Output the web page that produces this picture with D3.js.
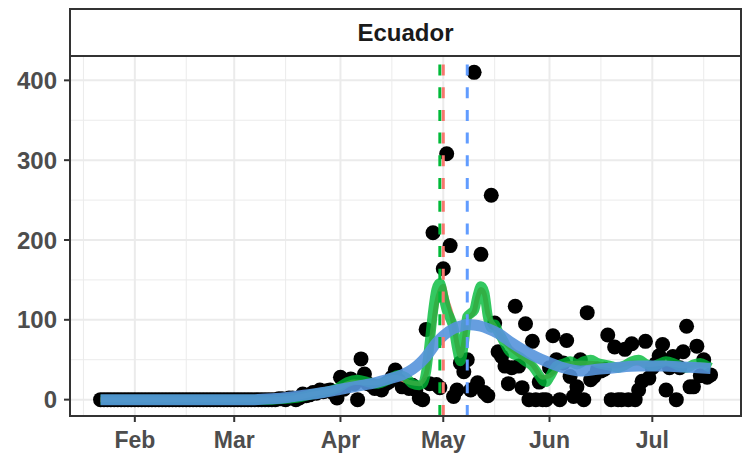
<!DOCTYPE html>
<html>
<head>
<meta charset="utf-8">
<script src="https://cdn.jsdelivr.net/npm/d3@7"></script>
<style>
  body { margin: 0; background: #fff; }
  text { font-family: "Liberation Sans", Arial, sans-serif; font-weight: bold; }
</style>
</head>
<body>
<svg id="chart" width="742" height="453"></svg>
<script>
// ---- data ----
const country = "Ecuador";
const startDate = "2020-01-22";
// daily deaths, one value per day from startDate
const daily = [
  0,0,0,0,0,0,0,0,0,0, 0,0,0,0,0,0,0,0,0,0,
  0,0,0,0,0,0,0,0,0,0, 0,0,0,0,0,0,0,0,0,0,
  0,0,0,0,0,0,0,0,0,0,
  0,0,1,1,0,2,2,0,2,7, 5,6,9,8,12,10,11,12,8,2,
  28,13,22,26,20,0,51,32,20,18, 14,16,12,19,22,28,37,24,16,18,
  14,18,12,2,0,88,20,209,19,15, 164,308,193,4,12,46,35,50,12,410,
  21,182,9,5,256,96,60,54,42,20, 40,117,42,15,95,0,73,0,22,0,
  0,40,80,50,0,46,74,29,4,16, 50,0,109,25,29,38,36,38,81,0,
  66,0,0,63,0,70,0,12,23,73, 27,40,45,55,69,12,40,54,0,40,
  60,92,16,16,67,30,50,28,31
];
// smoothed curves: [day offset, value]
const greenFit = [[0,0],[50,0],[54,1],[58,3],[62,7],[66,10],[69,14],[72,22],[75,25],[78,22],[81,20],[84,25],
  [87,31],[89,28],[91,20],[93,18],[94,20],[95,35],[96,70],[97,110],[98,138],[99,146],[100,130],[101,112],
  [102,102],[103,90],[104,65],[105,48],[106,70],[107,104],[108,108],[109,112],[110,130],[111,142],[112,134],
  [113,104],[114,90],[115,94],[116,85],[117,78],[118,70],[119,62],[120,58],[122,54],[124,48],[126,42],[128,30],
  [129,24],[130,22],[131,28],[133,42],[135,45],[137,48],[139,44],[141,48],[143,50],[145,46],[147,44],[149,42],
  [151,40],[153,43],[155,48],[157,50],[159,45],[161,42],[163,45],[165,48],[167,46],[169,42],[171,40],[173,44],
  [175,46],[177,42],[178,40]];
const redFit = [[0,0],[50,0],[56,2],[62,7],[68,12],[74,22],[80,21],[86,28],[90,22],[93,20],[95,32],[97,90],
  [98,120],[99,136],[100,142],[101,125],[102,112],[103,95],[104,70],[105,55],[106,72],[107,100],[109,110],
  [110,128],[111,138],[112,132],[113,108],[115,92],[118,72],[122,56],[126,44],[129,28],[131,30],[135,44],
  [140,46],[145,45],[150,42],[155,46],[160,44],[165,46],[170,42],[175,44],[178,42]];
const blueFit = [[0,0],[45,0],[50,1],[55,3],[60,6],[65,9],[70,13],[75,17],[80,21],[85,27],[88,31],[91,38],
  [93,45],[95,54],[98,71],[100,80],[103,89],[105,92],[107,94],[109,93.5],[111,92],[113,89],[116,83],[120,71],
  [125,58],[130,48],[135,40],[140,36],[145,38],[150,40],[157,42],[164,42],[170,41],[178,39]];
// peak dates of each curve
const peaks = [
  { day: 99, color: "#00BA38" },
  { day: 100, color: "#F8766D" },
  { day: 107, color: "#619CFF" }
];
const yTicks = [0, 100, 200, 300, 400];
const monthLabels = ["Feb", "Mar", "Apr", "May", "Jun", "Jul"];

// ---- layout ----
const svg = d3.select("#chart");
const panel = { left: 70, right: 741, top: 56, bottom: 416 };
const t0 = d3.timeParse("%Y-%m-%d")(startDate);
const dayToDate = d => d3.timeDay.offset(t0, d);
const points = daily.map((v, i) => ({ date: dayToDate(i), value: v }));

const lastDay = daily.length - 1;
const padX = lastDay * 0.05;
const x = d3.scaleTime()
  .domain([d3.timeHour.offset(t0, -padX * 24), d3.timeHour.offset(t0, (lastDay + padX) * 24)])
  .range([panel.left, panel.right]);
const yMax = d3.max(daily);
const y = d3.scaleLinear()
  .domain([-yMax * 0.05, yMax * 1.05])
  .range([panel.bottom, panel.top]);

const months = d3.timeMonth.range(new Date(2020, 1, 1), new Date(2020, 6, 2));
const minorX = [new Date(2020, 0, 17)].concat(months.map(m => d3.timeDay.offset(m, 15)));

// grid
const grid = svg.append("g");
grid.selectAll(".minx").data(minorX).enter().append("line")
  .attr("x1", d => x(d)).attr("x2", d => x(d))
  .attr("y1", panel.top).attr("y2", panel.bottom)
  .attr("stroke", "#ebebeb").attr("stroke-width", 1);
grid.selectAll(".miny").data([50, 150, 250, 350]).enter().append("line")
  .attr("x1", panel.left).attr("x2", panel.right)
  .attr("y1", d => y(d)).attr("y2", d => y(d))
  .attr("stroke", "#ebebeb").attr("stroke-width", 1);
grid.selectAll(".majx").data(months).enter().append("line")
  .attr("x1", d => x(d)).attr("x2", d => x(d))
  .attr("y1", panel.top).attr("y2", panel.bottom)
  .attr("stroke", "#ebebeb").attr("stroke-width", 2);
grid.selectAll(".majy").data(yTicks).enter().append("line")
  .attr("x1", panel.left).attr("x2", panel.right)
  .attr("y1", d => y(d)).attr("y2", d => y(d))
  .attr("stroke", "#ebebeb").attr("stroke-width", 2);

// points
svg.append("g").selectAll("circle")
  .data(points).enter().append("circle")
  .attr("cx", d => x(d.date))
  .attr("cy", d => y(d.value))
  .attr("r", 7.5)
  .attr("fill", "black");

// curves
const line = d3.line()
  .x(d => x(dayToDate(d[0])))
  .y(d => y(d[1]))
  .curve(d3.curveMonotoneX);

svg.append("path").datum(redFit)
  .attr("d", line).attr("fill", "none")
  .attr("stroke", "#F8766D").attr("stroke-width", 5).attr("opacity", 0.9);
svg.append("path").datum(greenFit)
  .attr("d", line).attr("fill", "none")
  .attr("stroke", "#00BA38").attr("stroke-width", 10).attr("opacity", 0.8)
  .attr("stroke-linejoin", "round");
svg.append("path").datum(blueFit)
  .attr("d", line).attr("fill", "none")
  .attr("stroke", "#5594dc").attr("stroke-width", 11).attr("opacity", 0.9)
  .attr("stroke-linejoin", "round");

// peak markers
svg.append("g").selectAll("line")
  .data(peaks).enter().append("line")
  .attr("x1", d => x(dayToDate(d.day))).attr("x2", d => x(dayToDate(d.day)))
  .attr("y1", panel.bottom).attr("y2", panel.top)
  .attr("stroke", d => d.color)
  .attr("stroke-width", 3)
  .attr("stroke-dasharray", "11,11.7");

// panel border
svg.append("rect")
  .attr("x", panel.left).attr("y", panel.top)
  .attr("width", panel.right - panel.left).attr("height", panel.bottom - panel.top)
  .attr("fill", "none").attr("stroke", "#333").attr("stroke-width", 2);

// strip
svg.append("rect")
  .attr("x", panel.left).attr("y", 9)
  .attr("width", panel.right - panel.left).attr("height", panel.top - 9)
  .attr("fill", "white").attr("stroke", "#333").attr("stroke-width", 2);
svg.append("text")
  .attr("x", (panel.left + panel.right) / 2).attr("y", 41)
  .attr("text-anchor", "middle")
  .attr("font-size", 24).attr("fill", "#1a1a1a")
  .text(country);

// axes
const yAxis = svg.append("g");
yAxis.selectAll("line").data(yTicks).enter().append("line")
  .attr("x1", panel.left - 6).attr("x2", panel.left)
  .attr("y1", d => y(d)).attr("y2", d => y(d))
  .attr("stroke", "#333").attr("stroke-width", 2);
yAxis.selectAll("text").data(yTicks).enter().append("text")
  .attr("x", panel.left - 13).attr("y", d => y(d))
  .attr("dy", "0.36em")
  .attr("text-anchor", "end")
  .attr("font-size", 24).attr("fill", "#4d4d4d")
  .text(d => d);

const xAxis = svg.append("g");
xAxis.selectAll("line").data(months).enter().append("line")
  .attr("x1", d => x(d)).attr("x2", d => x(d))
  .attr("y1", panel.bottom).attr("y2", panel.bottom + 6)
  .attr("stroke", "#333").attr("stroke-width", 2);
xAxis.selectAll("text").data(months).enter().append("text")
  .attr("x", d => x(d)).attr("y", 448)
  .attr("text-anchor", "middle")
  .attr("font-size", 23).attr("fill", "#4d4d4d")
  .text((d, i) => monthLabels[i]);
</script>
</body>
</html>
